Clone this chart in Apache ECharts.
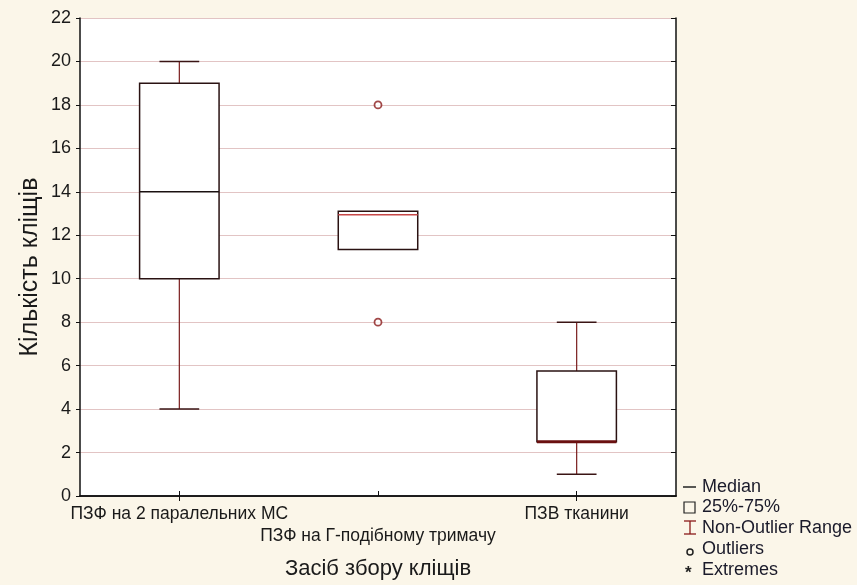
<!DOCTYPE html>
<html><head><meta charset="utf-8">
<script src="https://cdn.jsdelivr.net/npm/echarts@6/dist/echarts.min.js"></script>
<style>html,body{margin:0;padding:0;background:#fbf6e9}#c{width:857px;height:585px}</style>
</head><body><div id="c"></div>
<script>
const categories = ['ПЗФ на 2 паралельних МС', 'ПЗФ на Г-подібному тримачу', 'ПЗВ тканини'];
const minVals = [4, 11.35, 1];
const q1Vals = [10, 11.35, 2.5];
const medianVals = [14, 12.95, 2.5];
const q3Vals = [19, 13.1, 5.75];
const maxVals = [20, 13.1, 8];
const outlierCat = [1, 1];
const outlierVals = [18, 8];
const yTicks = {min: 0, max: 22, interval: 2};

const medianColors = ['#1a1010', '#c84848', '#6a1010'];
const medianWidths = [1.5, 1.5, 3];

const boxData = categories.map((c, i) => [i, minVals[i], q1Vals[i], medianVals[i], q3Vals[i], maxVals[i]]);
const outlierData = outlierCat.map((c, i) => [c, outlierVals[i]]);

const chart = echarts.init(document.getElementById('c'), null, {renderer: 'canvas'});
const font = 'Liberation Sans, Arial, sans-serif';

function renderBox(params, api) {
  const i = api.value(0);
  const bw = api.size([1, 0])[0] * 0.4;
  const x = api.coord([i, 0])[0];
  const yMin = api.coord([i, api.value(1)])[1];
  const yQ1 = api.coord([i, api.value(2)])[1];
  const yMed = api.coord([i, api.value(3)])[1];
  const yQ3 = api.coord([i, api.value(4)])[1];
  const yMax = api.coord([i, api.value(5)])[1];
  const whisk = {stroke: '#7a1c1c', lineWidth: 1.2};
  const cap = {stroke: '#3a1414', lineWidth: 1.5};
  const children = [];
  if (Math.abs(yMax - yQ3) > 0.5) {
    children.push({type: 'line', shape: {x1: x, y1: yMax, x2: x, y2: yQ3}, style: whisk});
    children.push({type: 'line', shape: {x1: x - bw / 4, y1: yMax, x2: x + bw / 4, y2: yMax}, style: cap});
  }
  if (Math.abs(yMin - yQ1) > 0.5) {
    children.push({type: 'line', shape: {x1: x, y1: yQ1, x2: x, y2: yMin}, style: whisk});
    children.push({type: 'line', shape: {x1: x - bw / 4, y1: yMin, x2: x + bw / 4, y2: yMin}, style: cap});
  }
  children.push({type: 'rect', shape: {x: x - bw / 2, y: yQ3, width: bw, height: yQ1 - yQ3},
    style: {fill: '#ffffff', stroke: '#2a1212', lineWidth: 1.5}});
  const di = params.dataIndex;
  children.push({type: 'line', shape: {x1: x - bw / 2, y1: yMed, x2: x + bw / 2, y2: yMed},
    style: {stroke: medianColors[di], lineWidth: medianWidths[di]}});
  return {type: 'group', children};
}

const legendX = 683;
const legendText = (t, y) => ({type: 'text', left: 702, top: y - 9,
  style: {text: t, font: '18px ' + font, fill: '#1a1a2a'}});

chart.setOption({
  backgroundColor: '#fbf6e9',
  animation: false,
  grid: {left: 80, right: 181, top: 18, bottom: 89, show: true, backgroundColor: '#ffffff', borderWidth: 0},
  xAxis: [{
    type: 'category', data: categories, boundaryGap: true, position: 'bottom',
    name: 'Засіб збору кліщів', nameLocation: 'middle', nameGap: 62,
    nameTextStyle: {fontFamily: font, fontSize: 22, color: '#1a1a1a'},
    axisLine: {show: true, lineStyle: {color: '#111', width: 1.5}},
    axisTick: {show: true, inside: true, alignWithLabel: true, length: 5, lineStyle: {color: '#111'}},
    axisLabel: {fontFamily: font, fontSize: 17.5, color: '#1a1a1a', margin: 7, lineHeight: 22, interval: 0,
      formatter: (v, i) => i === 1 ? '\n' + v : v},
    splitLine: {show: false}
  }, {
    type: 'category', data: categories, boundaryGap: true, position: 'top',
    axisLine: {show: true, lineStyle: {color: '#111', width: 1.5}},
    axisTick: {show: true, inside: true, alignWithLabel: true, length: 5, lineStyle: {color: '#111'}},
    axisLabel: {show: false}, splitLine: {show: false}
  }],
  yAxis: [{
    type: 'value', min: yTicks.min, max: yTicks.max, interval: yTicks.interval, position: 'left',
    name: 'Кількість кліщів', nameLocation: 'middle', nameGap: 37, nameMoveOverlap: false,
    nameTextStyle: {fontFamily: font, fontSize: 25, color: '#1a1a1a', padding: [0, 20, 0, 0]},
    axisLine: {show: true, lineStyle: {color: '#111', width: 1.5}},
    axisTick: {show: true, inside: false, length: 4, lineStyle: {color: '#111'}},
    axisLabel: {fontFamily: font, fontSize: 18, color: '#1a1a1a', margin: 9},
    splitLine: {show: true, lineStyle: {color: '#e2c4c4', width: 1}}
  }, {
    type: 'value', min: yTicks.min, max: yTicks.max, interval: yTicks.interval, position: 'right',
    axisLine: {show: true, lineStyle: {color: '#111', width: 1.5}},
    axisTick: {show: true, inside: true, length: 5, lineStyle: {color: '#111'}},
    axisLabel: {show: false}, splitLine: {show: false}
  }],
  series: [{
    type: 'custom', renderItem: renderBox, data: boxData,
    encode: {x: 0, y: [1, 2, 3, 4, 5]}, z: 5
  }, {
    type: 'scatter', data: outlierData, symbol: 'circle', symbolSize: 7,
    itemStyle: {color: '#ffffff', borderColor: '#8a1a1a', borderWidth: 1.8}, z: 6
  }],
  graphic: [
    {type: 'line', shape: {x1: legendX, y1: 487, x2: legendX + 13, y2: 487}, style: {stroke: '#222', lineWidth: 1.5}},
    legendText('Median', 487),
    {type: 'rect', shape: {x: legendX + 1, y: 502, width: 11, height: 11}, style: {fill: 'none', stroke: '#222', lineWidth: 1.2}},
    legendText('25%-75%', 507),
    {type: 'group', children: [
      {type: 'line', shape: {x1: legendX + 1, y1: 521, x2: legendX + 13, y2: 521}, style: {stroke: '#8a1a1a', lineWidth: 1.3}},
      {type: 'line', shape: {x1: legendX + 7, y1: 521, x2: legendX + 7, y2: 534}, style: {stroke: '#8a1a1a', lineWidth: 1.3}},
      {type: 'line', shape: {x1: legendX + 1, y1: 534, x2: legendX + 13, y2: 534}, style: {stroke: '#8a1a1a', lineWidth: 1.3}}
    ]},
    legendText('Non-Outlier Range', 528),
    {type: 'circle', shape: {cx: legendX + 7, cy: 552, r: 3}, style: {fill: 'none', stroke: '#222', lineWidth: 1.5}},
    legendText('Outliers', 549),
    {type: 'text', left: legendX + 2, top: 565, style: {text: '*', font: 'bold 17px ' + font, fill: '#222'}},
    legendText('Extremes', 570)
  ]
});
</script></body></html>
